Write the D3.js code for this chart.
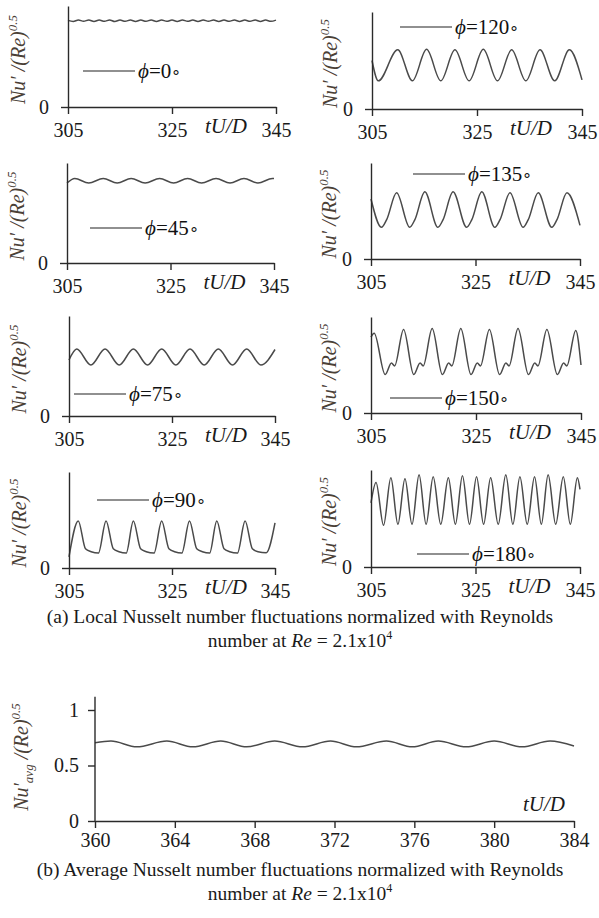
<!DOCTYPE html>
<html>
<head>
<meta charset="utf-8">
<title>Nusselt number fluctuations</title>
<script src="https://cdn.jsdelivr.net/npm/d3@7"></script>
<style>
  body { margin: 0; background: #fff; }
  svg text { font-family: "Liberation Serif", "Times New Roman", serif; }
</style>
</head>
<body>
<svg id="chart" width="599" height="918"></svg>
<script>
// ---- data ----
var localTicks = [305, 325, 345];
var avgTicksX = [360, 364, 368, 372, 376, 380, 384];
var avgTicksY = [0, 0.5, 1];
var angles = ["0", "120", "45", "135", "75", "150", "90", "180"];

var phi0 = [[305,0.858],[306,0.847],[307,0.862],[308,0.848],[309,0.862],[310,0.847],[311,0.861],[312,0.848],
  [313,0.862],[314,0.846],[315,0.861],[316,0.848],[317,0.862],[318,0.847],[319,0.861],[320,0.848],[321,0.862],
  [322,0.847],[323,0.862],[324,0.848],[325,0.861],[326,0.847],[327,0.862],[328,0.848],[329,0.861],[330,0.847],
  [331,0.862],[332,0.848],[333,0.862],[334,0.847],[335,0.861],[336,0.848],[337,0.862],[338,0.847],[339,0.861],
  [340,0.848],[341,0.862],[342,0.847],[343,0.861],[344,0.848],[345,0.860]];

var phi120 = [[305,0.50],[306.2,0.29],[309.9,0.61],[312.7,0.29],[315.4,0.615],[318.1,0.29],[320.8,0.61],
  [323.5,0.29],[326.2,0.615],[328.9,0.29],[331.6,0.61],[334.3,0.29],[337.0,0.61],[339.8,0.29],[342.6,0.61],[345,0.30]];

var phi45 = [[305,0.80],[306.5,0.845],[309.2,0.80],[312.0,0.845],[314.7,0.80],[317.4,0.845],[320.1,0.80],
  [322.9,0.845],[325.6,0.80],[328.3,0.845],[331.0,0.80],[333.8,0.845],[336.5,0.80],[339.2,0.845],[341.9,0.80],
  [344.7,0.845],[345,0.844]];

var phi135 = [[305,0.625],[307.0,0.33],[308.0,0.41],[309.9,0.69],[312.4,0.33],[313.4,0.41],[315.3,0.70],
  [317.8,0.33],[318.8,0.41],[320.7,0.70],[323.3,0.33],[324.3,0.41],[326.2,0.70],[328.7,0.33],[329.7,0.41],
  [331.6,0.69],[334.1,0.33],[335.1,0.41],[337.0,0.69],[339.6,0.33],[340.6,0.41],[342.5,0.69],[345,0.35]];

var phi75 = [[305,0.56],[306.5,0.67],[309.25,0.51],[312.0,0.67],[314.75,0.51],[317.5,0.67],[320.25,0.51],
  [323.0,0.67],[325.75,0.51],[328.5,0.67],[331.25,0.51],[334.0,0.67],[336.75,0.51],[339.5,0.67],[342.25,0.51],[345,0.665]];

var phi150 = [[305,0.79],[305.6,0.83],[307.7,0.40],[308.9,0.52],[309.5,0.49],[311.2,0.87],[313.15,0.40],
  [314.35,0.52],[314.95,0.49],[316.65,0.88],[318.6,0.40],[319.8,0.52],[320.4,0.49],[322.1,0.88],[324.05,0.40],
  [325.25,0.52],[325.85,0.49],[327.55,0.87],[329.5,0.40],[330.7,0.52],[331.3,0.49],[333.0,0.88],[335.0,0.40],
  [336.2,0.52],[336.8,0.49],[338.5,0.87],[340.5,0.40],[341.7,0.52],[342.3,0.49],[344.0,0.86],[345,0.50]];

var phi90 = [[305,0.115],[306.8,0.49],[308.2,0.20],[309.3,0.17],[310.7,0.155],[312.2,0.49],[313.6,0.20],
  [314.7,0.17],[316.1,0.155],[317.5,0.49],[318.9,0.20],[320.0,0.17],[321.5,0.155],[323.0,0.49],[324.4,0.20],
  [325.5,0.17],[326.9,0.155],[328.4,0.49],[329.8,0.20],[330.9,0.17],[332.3,0.155],[333.7,0.49],[335.1,0.20],
  [336.2,0.17],[337.7,0.155],[339.2,0.49],[340.6,0.20],[341.7,0.17],[343.3,0.16],[345,0.47]];

var phi180 = [[305,0.66],[305.96,0.87],[307.4,0.43],[308.8,0.92],[310.15,0.44],[311.5,0.91],[312.85,0.44],
  [314.2,0.95],[315.55,0.44],[316.9,0.93],[318.35,0.44],[319.8,0.92],[321.15,0.44],[322.5,0.94],[323.85,0.44],
  [325.2,0.93],[326.55,0.44],[327.9,0.92],[329.35,0.44],[330.8,0.95],[332.15,0.44],[333.5,0.93],[334.9,0.44],
  [336.3,0.93],[337.6,0.44],[338.9,0.95],[340.35,0.44],[341.8,0.93],[343.15,0.44],[344.5,0.92],[345,0.80]];

var avgNu = [[360,0.705],[360.8,0.72],[362.1,0.668],[363.6,0.72],[364.9,0.668],[366.3,0.72],[367.6,0.668],
  [369.0,0.72],[370.4,0.668],[371.8,0.72],[373.1,0.668],[374.6,0.72],[375.9,0.668],[377.2,0.72],[378.6,0.668],
  [380.0,0.72],[381.4,0.668],[382.8,0.72],[384,0.675]];

var localSeries = [phi0, phi120, phi45, phi135, phi75, phi150, phi90, phi180];

// ---- layout (pixel positions of each small panel) ----
var layout = [
  {x0: 68,  x1: 276, y0: 107, yt: 6,   lbl: 25,  lx: 83,  ly: 71},
  {x0: 372, x1: 582, y0: 109, yt: 12,  lbl: 337, lx: 400, ly: 27},
  {x0: 67,  x1: 274, y0: 263, yt: 163, lbl: 24,  lx: 90,  ly: 228},
  {x0: 371, x1: 580, y0: 259, yt: 163, lbl: 336, lx: 413, ly: 174},
  {x0: 69,  x1: 275, y0: 416, yt: 316, lbl: 26,  lx: 74,  ly: 394},
  {x0: 371, x1: 581, y0: 413, yt: 317, lbl: 336, lx: 390, ly: 398},
  {x0: 69,  x1: 275, y0: 568, yt: 472, lbl: 26,  lx: 97,  ly: 500},
  {x0: 371, x1: 580, y0: 567, yt: 470, lbl: 336, lx: 417, ly: 554}
];

var svg = d3.select("#chart");
var axisColor = "#2a2a2a", lineColor = "#4a4a4a", labelColor = "#4a4036";

function styleAxis(g) {
  g.selectAll("path, line").attr("stroke", axisColor).attr("stroke-width", 1.4);
  g.selectAll("text").attr("font-family", "Liberation Serif, serif").attr("font-size", 20).attr("fill", "#1a1a1a");
}

function yLabel(x, y, sub) {
  var t = svg.append("text")
    .attr("transform", "translate(" + x + "," + y + ") rotate(-90)")
    .attr("text-anchor", "middle")
    .attr("font-style", "italic")
    .attr("font-size", 20)
    .attr("fill", labelColor);
  t.append("tspan").text("Nu\u2032");
  if (sub) t.append("tspan").attr("font-size", 13).attr("dy", 5).text("avg");
  t.append("tspan").attr("dy", sub ? -5 : 0).text(" /(Re)");
  t.append("tspan").attr("font-size", 13).attr("dy", -8).text("0.5");
}

layout.forEach(function(p, i) {
  var x = d3.scaleLinear().domain([305, 345]).range([p.x0, p.x1]);
  var y = d3.scaleLinear().domain([0, 1]).range([p.y0, p.yt]);

  svg.append("path")
    .datum(localSeries[i])
    .attr("fill", "none")
    .attr("stroke", lineColor)
    .attr("stroke-width", 1.5)
    .attr("d", d3.line().x(function(d){ return x(d[0]); }).y(function(d){ return y(d[1]); }).curve(d3.curveMonotoneX));

  svg.append("g").attr("transform", "translate(0," + p.y0 + ")")
    .call(d3.axisBottom(x).tickValues(localTicks).tickSize(7).tickSizeOuter(0).tickPadding(9))
    .call(styleAxis);

  svg.append("g").attr("transform", "translate(" + p.x0 + ",0)")
    .call(d3.axisLeft(y).tickValues([0]).tickSize(7).tickSizeOuter(0).tickPadding(12).tickFormat(d3.format("")))
    .call(styleAxis);

  svg.append("text")
    .attr("x", x(325) + 33).attr("y", p.y0 + 26)
    .attr("font-style", "italic").attr("font-size", 21).attr("fill", "#1a1a1a")
    .text("tU/D");

  yLabel(p.lbl, (p.y0 + p.yt) / 2 + 3, false);

  // legend
  svg.append("line")
    .attr("x1", p.lx).attr("x2", p.lx + 52).attr("y1", p.ly).attr("y2", p.ly)
    .attr("stroke", "#222").attr("stroke-width", 1.2);
  var lt = svg.append("text")
    .attr("x", p.lx + 55).attr("y", p.ly + 7)
    .attr("font-size", 21).attr("fill", "#111");
  lt.append("tspan").attr("font-style", "italic").text("\u03d5");
  lt.append("tspan").text("=" + angles[i]);
  lt.append("tspan").attr("font-size", 16).text("\u2218");
});

// captions
function caption(y, prefix) {
  svg.append("text").attr("x", 300).attr("y", y).attr("text-anchor", "middle")
    .attr("font-size", 19.5).attr("fill", "#1a1a1a")
    .text(prefix + " Nusselt number fluctuations normalized with Reynolds");
  var t = svg.append("text").attr("x", 300).attr("y", y + 24).attr("text-anchor", "middle")
    .attr("font-size", 19.5).attr("fill", "#1a1a1a");
  t.append("tspan").text("number at ");
  t.append("tspan").attr("font-style", "italic").text("Re");
  t.append("tspan").text(" = 2.1x10");
  t.append("tspan").attr("font-size", 12).attr("dy", -8).text("4");
}
caption(623, "(a) Local");

// ---- average panel ----
var xa = d3.scaleLinear().domain([360, 384]).range([95, 574]);
var ya = d3.scaleLinear().domain([0, 1]).range([821, 710]);

svg.append("path")
  .datum(avgNu)
  .attr("fill", "none")
  .attr("stroke", lineColor)
  .attr("stroke-width", 1.5)
  .attr("d", d3.line().x(function(d){ return xa(d[0]); }).y(function(d){ return ya(d[1]); }).curve(d3.curveMonotoneX));

svg.append("g").attr("transform", "translate(0,821)")
  .call(d3.axisBottom(xa).tickValues(avgTicksX).tickSize(7).tickSizeOuter(0).tickPadding(5))
  .call(styleAxis);

var ay = svg.append("g").attr("transform", "translate(95,0)")
  .call(d3.axisLeft(ya).tickValues(avgTicksY).tickSize(7).tickSizeOuter(0).tickPadding(9).tickFormat(d3.format("")))
  .call(styleAxis);
ay.select(".domain").attr("d", "M0," + ya(1.12) + "V" + ya(0));

svg.append("text").attr("x", 523).attr("y", 811)
  .attr("font-style", "italic").attr("font-size", 21).attr("fill", "#1a1a1a").text("tU/D");

yLabel(28, 757, true);

caption(876, "(b) Average");
</script>
</body>
</html>
